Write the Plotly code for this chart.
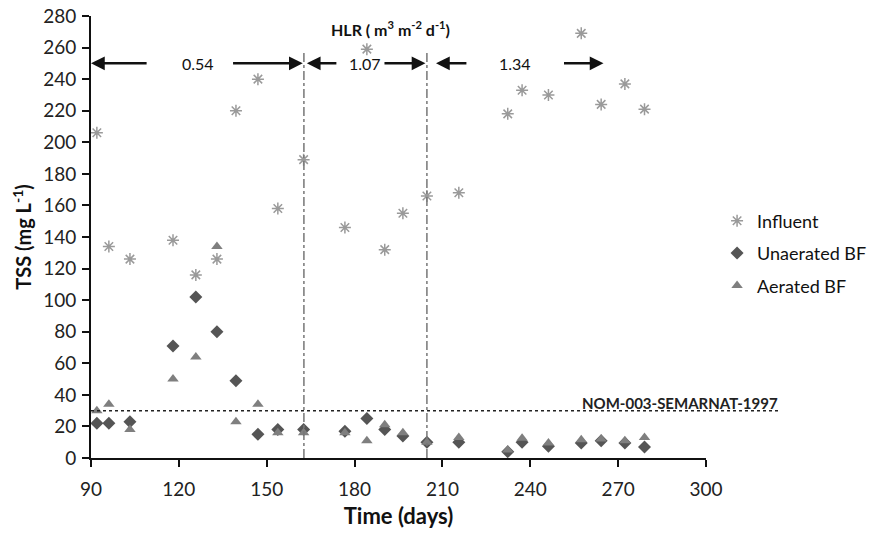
import plotly.graph_objects as go

# Data
inf_days = [92.0, 96.1, 103.3, 118.0, 125.8, 133.0, 139.5, 147.0, 153.8, 162.6, 176.7, 184.2, 190.3, 196.5, 204.7, 215.6, 232.3, 237.2, 246.2, 257.4, 264.2, 272.3, 279.0]
inf_tss = [206, 134, 126, 138, 116, 126, 220, 240, 158, 189, 146, 259, 132, 155, 166, 168, 218, 233, 230, 269, 224, 237, 221]

una_days = [92.0, 96.1, 103.3, 118.0, 125.8, 133.0, 139.5, 147.0, 153.8, 162.6, 176.7, 184.2, 190.3, 196.5, 204.7, 215.6, 232.3, 237.2, 246.2, 257.4, 264.2, 272.3, 279.0]
una_tss = [22, 22, 23, 71, 102, 80, 49, 15, 18, 18, 17, 25, 18, 14, 10, 10, 4, 10, 7.5, 9.5, 11, 9.5, 7]

aer_days = [92.0, 96.1, 103.3, 118.0, 125.8, 133.0, 139.5, 147.0, 153.8, 162.6, 176.7, 184.2, 190.3, 196.5, 204.7, 215.6, 232.3, 237.2, 246.2, 257.4, 264.2, 272.3, 279.0]
aer_tss = [30, 34, 18, 50, 64, 134, 23, 34, 16, 16, 16, 11, 21, 16, 10, 13, 5, 12.5, 9.5, 11.5, 12, 11, 13]

hlr_labels = ["0.54", "1.07", "1.34"]
hlr_label_days = [126.5, 183.5, 234.7]
hlr_bounds = [162.7, 204.7]
limit_value = 30

FONT = "Lato"

fig = go.Figure()
fig.add_trace(go.Scatter(x=inf_days, y=inf_tss, mode="markers", name="Influent", legendgroup="a",
                         marker=dict(symbol="asterisk-open", size=10, color="#9a9a9a",
                                     line=dict(color="#9a9a9a", width=1.5))))
fig.add_trace(go.Scatter(x=una_days, y=una_tss, mode="markers", name="Unaerated BF", legendgroup="b",
                         marker=dict(symbol="diamond", size=10, color="#555555")))
fig.add_trace(go.Scatter(x=aer_days, y=aer_tss, mode="markers", name="Aerated BF", legendgroup="c",
                         marker=dict(symbol="triangle-up", size=10, color="#7f7f7f")))

shapes = []
for b in hlr_bounds:
    shapes.append(dict(type="line", xref="x", yref="y", x0=b, x1=b, y0=0, y1=258,
                       line=dict(color="#777777", width=1.5, dash="dashdot")))
shapes.append(dict(type="line", xref="paper", yref="y", x0=0, x1=1.12, y0=limit_value, y1=limit_value,
                   line=dict(color="#222222", width=1.5, dash="dot")))

annotations = []
arrow_pairs = [(90, 109.5), (162.3, 138), (163.7, 174.3), (204.2, 189.7), (207.8, 218.7), (265, 251)]
for head, tail in arrow_pairs:
    annotations.append(dict(x=head, y=250, ax=tail, ay=250, xref="x", yref="y", axref="x", ayref="y",
                            text="", showarrow=True, arrowhead=2, arrowsize=1.1, arrowwidth=2.5,
                            arrowcolor="#111111"))
for lab, d in zip(hlr_labels, hlr_label_days):
    annotations.append(dict(x=d, y=250, xref="x", yref="y", text=lab, showarrow=False,
                            font=dict(family=FONT, size=16, color="#111111")))
annotations.append(dict(x=192.4, y=272, xref="x", yref="y",
                        text="<b>HLR ( m<sup>3</sup> m<sup>-2</sup> d<sup>-1</sup>)</b>",
                        showarrow=False, font=dict(family=FONT, size=16, color="#111111")))
annotations.append(dict(x=1.12, y=limit_value, xref="paper", yref="y", xanchor="right", yanchor="bottom",
                        text="<b>NOM-003-SEMARNAT-1997</b>", showarrow=False, yshift=-3,
                        font=dict(family=FONT, size=15, color="#222222")))

fig.update_layout(
    width=872, height=534,
    margin=dict(l=91, r=166, t=16, b=76, autoexpand=False),
    paper_bgcolor="white", plot_bgcolor="white",
    font=dict(family=FONT, size=19, color="#222222"),
    showlegend=True,
    legend=dict(x=1.018, y=0.578, xanchor="left", yanchor="top", bgcolor="rgba(0,0,0,0)",
                font=dict(family=FONT, size=18, color="#111111"), tracegroupgap=6,
                itemwidth=30),
    shapes=shapes, annotations=annotations,
    xaxis=dict(range=[90, 300], tickmode="array", tickvals=[90, 120, 150, 180, 210, 240, 270, 300],
               showline=True, linecolor="#111111", linewidth=2, ticks="outside", ticklen=7, tickwidth=2,
               tickcolor="#111111", showgrid=False, zeroline=False, ticklabelstandoff=6,
               tickfont=dict(family=FONT, size=19, color="#222222"),
               title=dict(text="<b>Time (days)</b>", font=dict(family=FONT, size=22, color="#111111"), standoff=10)),
    yaxis=dict(range=[0, 280], tickmode="array", tickvals=list(range(0, 281, 20)),
               showline=True, linecolor="#111111", linewidth=2, ticks="outside", ticklen=7, tickwidth=2,
               tickcolor="#111111", showgrid=False, zeroline=False, ticklabelstandoff=2,
               tickfont=dict(family=FONT, size=19, color="#222222"),
               title=dict(text="<b>TSS (mg L<sup>-1</sup>)</b>", font=dict(family=FONT, size=20, color="#111111"), standoff=6)),
)

fig.write_html("out.html")
